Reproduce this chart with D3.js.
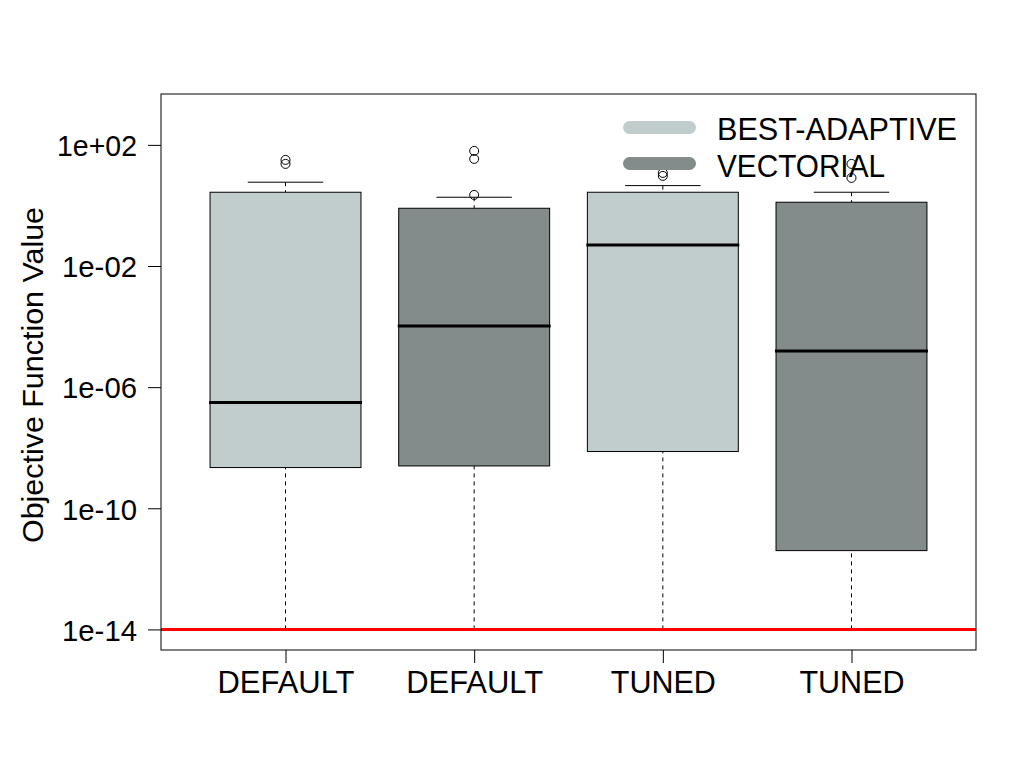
<!DOCTYPE html>
<html><head><meta charset="utf-8">
<script src="https://cdn.jsdelivr.net/npm/d3@7"></script>
<style>body{margin:0;background:#fff}svg{display:block}text{font-family:"Liberation Sans",Arial,sans-serif;fill:#000}</style>
</head><body>
<svg id="c" width="1024" height="768"></svg>
<script>
// data (log10 of values)
const categories = ["DEFAULT", "DEFAULT", "TUNED", "TUNED"];
const groups = ["BEST-ADAPTIVE", "VECTORIAL", "BEST-ADAPTIVE", "VECTORIAL"];
const whiskerLow = [-14, -14, -14, -14];
const q1 = [-8.655, -8.602, -8.126, -11.398];
const medians = [-6.506, -3.983, -1.306, -4.81];
const q3 = [0.436, -0.093, 0.436, 0.106];
const whiskerHigh = [0.767, 0.271, 0.655, 0.436];
const outliers = [[1.504, 1.372], [1.80, 1.537, 0.347], [1.074, 0.975], [1.372, 0.909]];
const yTicks = [1e2, 1e-2, 1e-6, 1e-10, 1e-14];
const yTickLabels = ["1e+02", "1e-02", "1e-06", "1e-10", "1e-14"];
const legendLabels = ["BEST-ADAPTIVE", "VECTORIAL"];
const threshold = 1e-14;

const colors = {"BEST-ADAPTIVE": "#C1CDCD", "VECTORIAL": "#838B8B"};
const svg = d3.select("#c");
const L = 161, R = 976, T = 94, B = 650;

const y = d3.scaleLog().domain([Math.pow(10, -14.68), Math.pow(10, 3.68)]).range([B, T]);
const x = d3.scaleLinear().domain([0.34, 4.66]).range([L, R]);
const bw = x(0.8) - x(0);
const p = v => y(Math.pow(10, v));

const g = svg.append("g");
categories.forEach((c, i) => {
  const cx = x(i + 1);
  // whiskers dashed
  g.append("line").attr("x1", cx).attr("x2", cx).attr("y1", p(whiskerLow[i])).attr("y2", p(q1[i]))
    .attr("stroke", "#000").attr("stroke-width", 1).attr("stroke-dasharray", "4,4");
  g.append("line").attr("x1", cx).attr("x2", cx).attr("y1", p(whiskerHigh[i])).attr("y2", p(q3[i]))
    .attr("stroke", "#000").attr("stroke-width", 1).attr("stroke-dasharray", "4,4");
  // staples
  [whiskerLow[i], whiskerHigh[i]].forEach(v => {
    g.append("line").attr("x1", cx - bw / 4).attr("x2", cx + bw / 4).attr("y1", p(v)).attr("y2", p(v))
      .attr("stroke", "#000").attr("stroke-width", 1);
  });
  // box
  g.append("rect").attr("x", cx - bw / 2).attr("width", bw).attr("y", p(q3[i])).attr("height", p(q1[i]) - p(q3[i]))
    .attr("fill", colors[groups[i]]).attr("stroke", "#000").attr("stroke-width", 1);
  // median
  g.append("line").attr("x1", cx - bw / 2 - 1).attr("x2", cx + bw / 2 + 1).attr("y1", p(medians[i])).attr("y2", p(medians[i]))
    .attr("stroke", "#000").attr("stroke-width", 3);
  // outliers
  g.selectAll(null).data(outliers[i]).enter().append("circle")
    .attr("cx", cx).attr("cy", d => p(d)).attr("r", 4.5)
    .attr("fill", "none").attr("stroke", "#000").attr("stroke-width", 1);
});

// threshold line
svg.append("line").attr("x1", L).attr("x2", R).attr("y1", y(threshold)).attr("y2", y(threshold))
  .attr("stroke", "#FF0000").attr("stroke-width", 3);

// frame
svg.append("rect").attr("x", L).attr("y", T).attr("width", R - L).attr("height", B - T)
  .attr("fill", "none").attr("stroke", "#000").attr("stroke-width", 1);

// y axis
const yAxis = d3.axisLeft(y).tickValues(yTicks).tickFormat((d, i) => yTickLabels[i]).tickSize(13).tickPadding(11);
const ya = svg.append("g").attr("transform", `translate(${L},0)`).call(yAxis);
ya.select(".domain").remove();
ya.selectAll("text").attr("font-size", 30).attr("fill", "#000").attr("dy", "0.36em")
  .attr("textLength", (d, i) => i === 0 ? 80 : 75).attr("lengthAdjust", "spacingAndGlyphs")
  .style("font-family", '"Liberation Sans",Arial,sans-serif');
ya.selectAll("line").attr("stroke", "#000");

// x axis
const xAxis = d3.axisBottom(x).tickValues([1, 2, 3, 4]).tickFormat((d, i) => categories[i]).tickSize(13).tickPadding(10);
const xa = svg.append("g").attr("transform", `translate(0,${B})`).call(xAxis);
xa.select(".domain").remove();
xa.selectAll("line").attr("stroke", "#000");
xa.selectAll("text").attr("font-size", 32).attr("fill", "#000").attr("y", 43).attr("dy", 0)
  .attr("textLength", (d, i) => categories[i] === "DEFAULT" ? 137 : 105).attr("lengthAdjust", "spacingAndGlyphs")
  .style("font-family", '"Liberation Sans",Arial,sans-serif');

// y title
svg.append("text").attr("transform", "translate(43,375) rotate(-90)").attr("text-anchor", "middle")
  .attr("font-size", 30).attr("textLength", 336).attr("lengthAdjust", "spacingAndGlyphs")
  .text("Objective Function Value");

// legend
const lg = svg.append("g");
legendLabels.forEach((lab, i) => {
  const yy = 127.5 + i * 36;
  lg.append("line").attr("x1", 629.5).attr("x2", 689.5).attr("y1", yy).attr("y2", yy)
    .attr("stroke", colors[lab]).attr("stroke-width", 13).attr("stroke-linecap", "round");
  lg.append("text").attr("x", 717).attr("y", 139.5 + i * 37).attr("font-size", 32)
    .attr("textLength", lab === "BEST-ADAPTIVE" ? 240 : 168).attr("lengthAdjust", "spacingAndGlyphs").text(lab);
});
</script>
</body></html>
